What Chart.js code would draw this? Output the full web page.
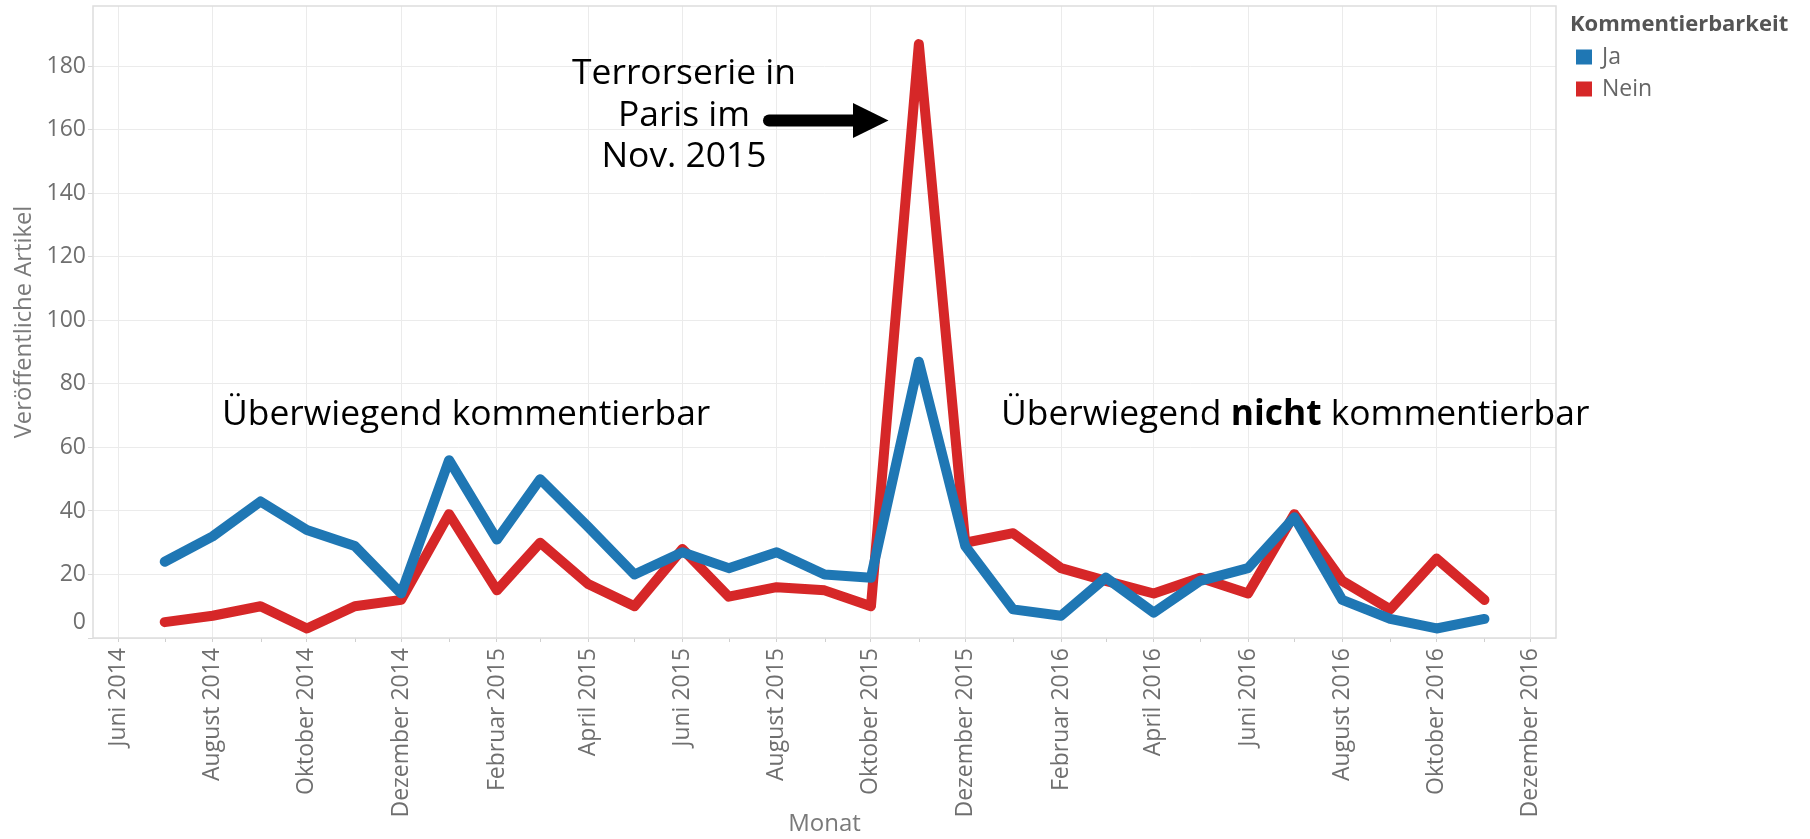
<!DOCTYPE html>
<html>
<head>
<meta charset="utf-8">
<script src="https://cdn.jsdelivr.net/npm/chart.js@4.4.1/dist/chart.umd.min.js"></script>
<style>
  html, body { margin: 0; padding: 0; background: #ffffff; }
  #wrap { width: 1810px; height: 839px; position: relative; }
</style>
</head>
<body>
<div id="wrap"><canvas id="c" width="1810" height="839"></canvas></div>
<script>
// ---------- data ----------
const months = ["2014-07","2014-08","2014-09","2014-10","2014-11","2014-12",
  "2015-01","2015-02","2015-03","2015-04","2015-05","2015-06","2015-07","2015-08","2015-09","2015-10","2015-11","2015-12",
  "2016-01","2016-02","2016-03","2016-04","2016-05","2016-06","2016-07","2016-08","2016-09","2016-10","2016-11"];
const ja   = [24, 32, 43, 34, 29, 14,  56, 31, 50, 35, 20, 27, 22, 27, 20, 19, 87, 29,  9, 7, 19, 8, 18, 22, 38, 12, 6, 3, 6];
const nein = [ 5,  7, 10,  3, 10, 12,  39, 15, 30, 17, 10, 28, 13, 16, 15, 10, 187, 30, 33, 22, 18, 14, 19, 14, 39, 18, 9, 25, 12];
const seriesNames = ["Ja", "Nein"];
const legendTitle = "Kommentierbarkeit";
const tickMonths = ["2014-06","2014-08","2014-10","2014-12","2015-02","2015-04","2015-06","2015-08",
  "2015-10","2015-12","2016-02","2016-04","2016-06","2016-08","2016-10","2016-12"];
const tickLabels = ["Juni 2014","August 2014","Oktober 2014","Dezember 2014","Februar 2015","April 2015","Juni 2015","August 2015",
  "Oktober 2015","Dezember 2015","Februar 2016","April 2016","Juni 2016","August 2016","Oktober 2016","Dezember 2016"];
const minorTickMonths = ["2014-07","2014-09","2014-11","2015-01","2015-03","2015-05","2015-07","2015-09",
  "2015-11","2016-01","2016-03","2016-05","2016-07","2016-09","2016-11"];
const yTicks = [0, 20, 40, 60, 80, 100, 120, 140, 160, 180];
const annotationLeft = "Überwiegend kommentierbar";
const annotationRightParts = ["Überwiegend ", "nicht", " kommentierbar"];
const eventLines = ["Terrorserie in", "Paris im", "Nov. 2015"];

// ---------- helpers ----------
const toDay = m => Date.UTC(+m.slice(0, 4), +m.slice(5, 7) - 1, 1) / 86400000;
const FONT = "'Open Sans', 'Noto Sans', sans-serif";
const colors = ["#1f77b4", "#d62728"];
const GRID = "#ebebeb";
const ANN_SIZE = 35.4;

const extras = {
  id: "extras",
  beforeDatasetsDraw(chart) {
    const {ctx, chartArea: a} = chart;
    const xs = chart.scales.x;
    ctx.save();
    // minor tick marks (odd months)
    ctx.strokeStyle = "#d0d0d0";
    ctx.lineWidth = 1;
    minorTickMonths.forEach(m => {
      const px = Math.round(xs.getPixelForValue(toDay(m))) + 0.5;
      ctx.beginPath(); ctx.moveTo(px, a.bottom); ctx.lineTo(px, a.bottom + 4); ctx.stroke();
    });
    // panel border
    ctx.strokeStyle = "#dddddd";
    ctx.lineWidth = 1.5;
    ctx.strokeRect(a.left, a.top, a.right - a.left, a.bottom - a.top);
    ctx.restore();
  },
  afterDraw(chart) {
    const {ctx, chartArea: a} = chart;
    const ys = chart.scales.y;
    ctx.save();
    // "0" label (shifted up into the panel like the original)
    ctx.fillStyle = "#6f6f6f";
    ctx.font = "23px " + FONT;
    ctx.textAlign = "right";
    ctx.textBaseline = "middle";
    ctx.fillText("0", a.left - 7, ys.getPixelForValue(0) - 16);

    // annotations
    ctx.fillStyle = "#000000";
    ctx.textBaseline = "alphabetic";
    ctx.font = ANN_SIZE + "px " + FONT;
    ctx.textAlign = "left";
    ctx.fillText(annotationLeft, 222, 425);
    let x = 1001;
    annotationRightParts.forEach((p, i) => {
      ctx.font = (i === 1 ? "bold " : "") + ANN_SIZE + "px " + FONT;
      ctx.fillText(p, x, 425);
      x += ctx.measureText(p).width;
    });
    ctx.font = ANN_SIZE + "px " + FONT;
    ctx.textAlign = "center";
    eventLines.forEach((t, i) => ctx.fillText(t, 684, 84 + i * 41.5));

    // arrow
    ctx.strokeStyle = "#000"; ctx.fillStyle = "#000";
    ctx.lineWidth = 12; ctx.lineCap = "round";
    ctx.beginPath(); ctx.moveTo(769, 120.5); ctx.lineTo(856, 120.5); ctx.stroke();
    ctx.beginPath(); ctx.moveTo(853, 103); ctx.lineTo(888.5, 120.5); ctx.lineTo(853, 138); ctx.closePath(); ctx.fill();

    // legend
    ctx.textAlign = "left";
    ctx.textBaseline = "middle";
    ctx.fillStyle = "#555555";
    ctx.font = "bold 22px " + FONT;
    ctx.fillText(legendTitle, 1570, 25);
    chart.data.datasets.forEach((ds, i) => {
      const cy = 57 + i * 32;
      ctx.fillStyle = ds.borderColor;
      ctx.fillRect(1576, cy - 7.5, 16, 15);
      ctx.fillStyle = "#666666";
      ctx.font = "23px " + FONT;
      ctx.fillText(ds.label, 1602, cy);
    });
    ctx.restore();
  }
};

const mk = (vals) => months.map((m, i) => ({x: toDay(m), y: vals[i]}));

new Chart(document.getElementById("c"), {
  type: "line",
  data: {
    datasets: [ja, nein].map((vals, i) => ({
      label: seriesNames[i],
      data: mk(vals),
      borderColor: colors[i],
      backgroundColor: colors[i],
      borderWidth: 10,
      pointRadius: 0,
      borderCapStyle: "round",
      borderJoinStyle: "round",
      tension: 0,
      fill: false
    }))
  },
  options: {
    responsive: false,
    animation: false,
    devicePixelRatio: 1,
    layout: { padding: { left: 0, top: 6, right: 254, bottom: 0 } },
    plugins: { legend: { display: false }, tooltip: { enabled: false } },
    scales: {
      x: {
        type: "linear",
        min: toDay("2014-06") - 16.4,
        max: toDay("2016-12") + 16.3,
        afterBuildTicks: ax => { ax.ticks = tickMonths.map(m => ({ value: toDay(m) })); },
        afterFit: ax => { ax.height = 201; ax.paddingLeft = 0; ax.paddingRight = 0; },
        ticks: {
          autoSkip: false, minRotation: 90, maxRotation: 90, padding: 6,
          color: "#6f6f6f", font: { family: FONT, size: 23 },
          callback: (v, i) => tickLabels[i]
        },
        grid: { color: GRID, lineWidth: 1, drawTicks: true, tickLength: 4, tickColor: "#d0d0d0" },
        border: { display: false },
        title: { display: true, text: "Monat", color: "#7a7a7a", font: { family: FONT, size: 24 }, padding: { top: 0, bottom: 0 } }
      },
      y: {
        min: 0, max: 199,
        afterBuildTicks: ax => { ax.ticks = yTicks.map(v => ({ value: v })); },
        afterFit: ax => { ax.width = 93; ax.paddingTop = 0; ax.paddingBottom = 0; },
        ticks: {
          padding: 2, color: "#6f6f6f", font: { family: FONT, size: 23 },
          callback: v => (v === 0 ? "" : String(v))
        },
        grid: { color: GRID, lineWidth: 1, drawTicks: true, tickLength: 5, tickColor: "#d8d8d8" },
        border: { display: false },
        title: { display: true, text: "Veröffentliche Artikel", color: "#7a7a7a", font: { family: FONT, size: 23.8 }, padding: { top: 10, bottom: 0 } }
      }
    }
  },
  plugins: [extras]
});
</script>
</body>
</html>
